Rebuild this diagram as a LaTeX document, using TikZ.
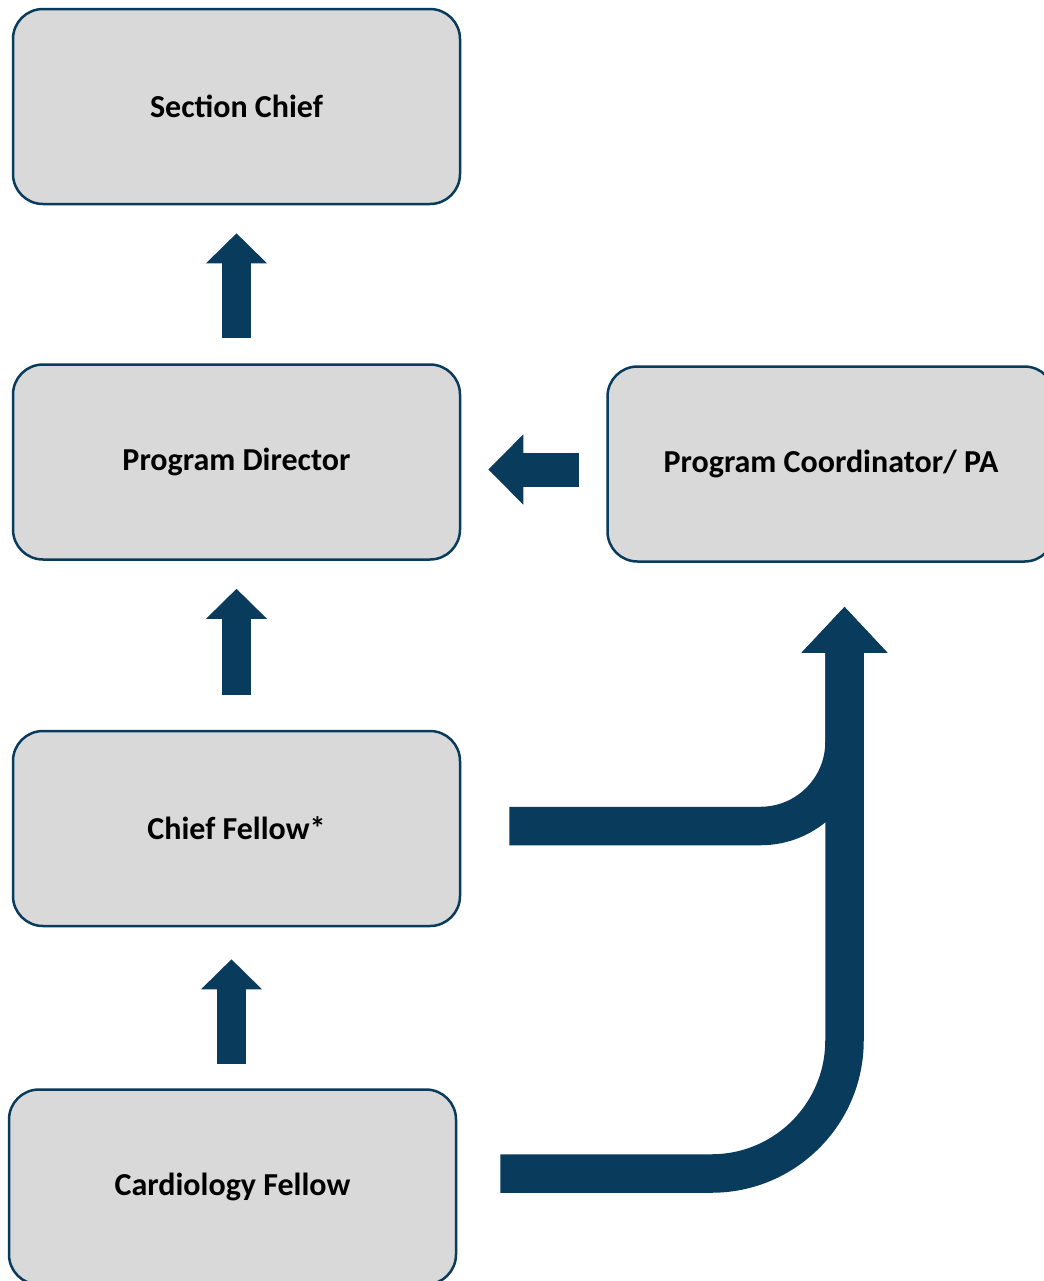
\documentclass[tikz,border=0pt]{standalone}
\usepackage{fontspec}
\setmainfont{Carlito}
\usetikzlibrary{arrows.meta}
\usetikzlibrary{positioning}

\definecolor{navy}{RGB}{9,59,92}
\definecolor{boxgray}{RGB}{217,217,217}

\tikzset{
  box/.style={draw=navy, fill=boxgray, line width=1.25pt,
    rounded corners=15pt, minimum width=223.5pt, minimum height=97.5pt,
    inner sep=0pt, font=\fontsize{16}{19}\selectfont\bfseries},
  blockarrow/.style={draw=navy, line width=14.5pt,
    -{Triangle[width=29.5pt,length=15pt]}},
  bendarrow/.style={draw=navy, line width=19.25pt,
    -{Triangle[width=41.5pt,length=23pt]}}
}

\begin{document}
\begin{tikzpicture}[x=0.5pt,y=-0.5pt]
    \useasboundingbox (0,0) rectangle (1044,1281);

    % TOP
    \node[box] (SECTION_CHIEF) at (236.5,106.5) {Section Chief};

    % MIDDLE LAYERS
    \node[box,
      node distance=79pt,
    below=of SECTION_CHIEF] (PROGRAM_DIRECTOR) {Program Director};
    \node[box,
      node distance=72.5pt,
      right=of PROGRAM_DIRECTOR,
    yshift=-1pt] (PROGRAM_COORDINATOR) {Program Coordinator/ PA};
    \node[box,
      node distance=84.5pt,
    below=of PROGRAM_DIRECTOR] (CHIEF_FELLOW) {Chief Fellow*};

    % BOTTOM
    \node[box,
      node distance=80.5pt,
      below=of CHIEF_FELLOW,
    xshift=-2pt] (CARDIOLOGY_FELLOW) {Cardiology Fellow};

    % ARROWS
    \draw[blockarrow, shorten <=12.5pt, shorten >=14pt]
      (PROGRAM_DIRECTOR) -- (SECTION_CHIEF);
    \draw[blockarrow, shorten <=17.5pt, shorten >=14pt]
      (CHIEF_FELLOW) -- (PROGRAM_DIRECTOR);
    \draw[blockarrow, shorten <=12pt, shorten >=16pt]
      ([xshift=-0.5pt]CARDIOLOGY_FELLOW.north)
      -- ([xshift=-0.5pt]CARDIOLOGY_FELLOW.north |- CHIEF_FELLOW.south);
    \draw[blockarrow, line width=17pt,
      -{Triangle[width=34pt,length=17.5pt]},
      shorten <=13.5pt, shorten >=13.5pt]
      ([yshift=-2.75pt]PROGRAM_COORDINATOR.west)
      -- ([yshift=-2.75pt]PROGRAM_COORDINATOR.west -| PROGRAM_DIRECTOR.east);

    % BENT ARROWS
    \coordinate (COORD_IN) at ([xshift=6.75pt]PROGRAM_COORDINATOR.south);
    \draw[bendarrow, rounded corners=42pt, shorten >=22pt]
      ([xshift=24pt,yshift=1.25pt]CHIEF_FELLOW.east) -| (COORD_IN);
    \draw[bendarrow, rounded corners=66.5pt, shorten >=22pt]
      ([xshift=21.5pt,yshift=6.75pt]CARDIOLOGY_FELLOW.east) -| (COORD_IN);
  \end{tikzpicture}
\end{document}
